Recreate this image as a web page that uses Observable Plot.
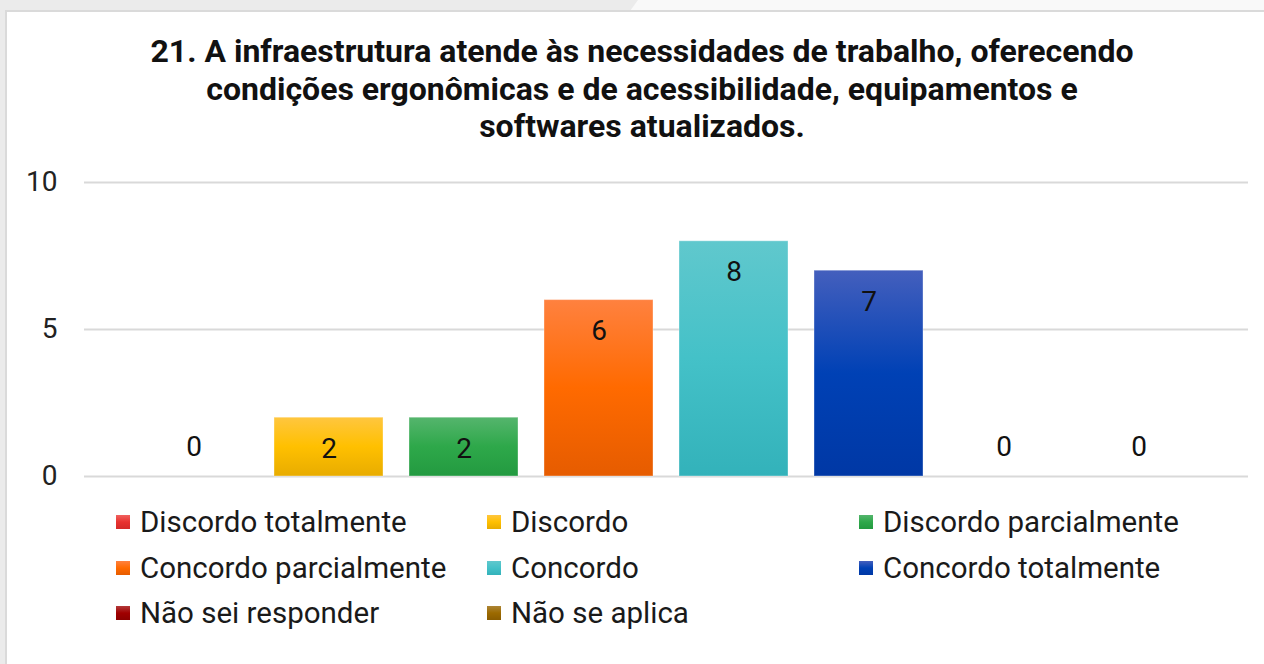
<!DOCTYPE html>
<html>
<head>
<meta charset="utf-8">
<script src="https://cdn.jsdelivr.net/npm/d3@7"></script>
<script src="https://cdn.jsdelivr.net/npm/@observablehq/plot@0.6"></script>
<style>
  html, body { margin: 0; padding: 0; }
  body { width: 1264px; height: 664px; overflow: hidden; background: #ebebeb; font-family: Roboto, "Noto Sans", sans-serif; position: relative; }
  #topright { position: absolute; left: 630px; top: 0; width: 634px; height: 11px; background: #f9f9f9; clip-path: polygon(8px 0, 100% 0, 100% 100%, 0 100%); }
  #card { position: absolute; left: 5px; top: 10px; width: 1270px; height: 670px; background: #fff; border-left: 2px solid #dadada; border-top: 2px solid #dadada; }
  #title { position: absolute; left: 0; top: 33px; width: 1284px; text-align: center; font-weight: bold; font-size: 32px; line-height: 37.5px; color: #111; white-space: nowrap; }
  #chart { position: absolute; left: 0; top: 160px; }
  .leg { position: absolute; font-size: 29.5px; color: #1a1a1a; white-space: nowrap; line-height: 34px; }
  .leg .sw { position: absolute; left: -24px; top: 10px; width: 14px; height: 14px; }
</style>
</head>
<body>
<div id="topright"></div>
<div id="card"></div>
<div id="title">21. A infraestrutura atende às necessidades de trabalho, oferecendo<br>condições ergonômicas e de acessibilidade, equipamentos e<br>softwares atualizados.</div>
<div id="chart"></div>
<div id="legend"></div>
<script>
const categories = ["Discordo totalmente", "Discordo", "Discordo parcialmente", "Concordo parcialmente", "Concordo", "Concordo totalmente", "Não sei responder", "Não se aplica"];
const values = [0, 2, 2, 6, 8, 7, 0, 0];
const colorsTop = ["#f0625f", "#ffc63f", "#55b56d", "#ff813f", "#60c8cd", "#445fbd", "#b33a3a", "#ad8535"];
const colorsMid = ["#e8322f", "#ffc000", "#2ea84a", "#ff6a00", "#44c1c8", "#0041b5", "#a00000", "#9c6a00"];
const colorsBot = ["#d42a28", "#e8ac00", "#239a40", "#e65c00", "#33b2ba", "#0038a5", "#8c0000", "#8a5c00"];
const yTicks = [0, 5, 10];

const data = categories.map((c, i) => ({cat: c, value: values[i], fill: `url(#grad${i})`}));

const plot = Plot.plot({
  width: 1264,
  height: 346,
  marginLeft: 84,
  marginRight: 16,
  marginTop: 22,
  marginBottom: 30,
  style: {background: "transparent", fontFamily: "Roboto, 'Noto Sans', sans-serif"},
  x: {domain: categories, paddingInner: 0.19, paddingOuter: 0.095, insetLeft: 42, insetRight: 41, axis: null},
  y: {domain: [0, 10], ticks: yTicks, tickSize: 0, tickPadding: 27, label: null},
  color: {type: "identity"},
  marks: [
    Plot.ruleY(yTicks, {stroke: "#d9d9d9", strokeWidth: 2}),
    Plot.barY(data, {x: "cat", y: "value", fill: "fill", stroke: "#ffffff", strokeOpacity: 0.35, strokeWidth: 1}),
    Plot.text(data.filter(d => d.value > 0), {x: "cat", y: "value", text: d => String(d.value), dy: 31, fontSize: 28, fill: "#111"}),
    Plot.text(data.filter(d => d.value === 0), {x: "cat", y: "value", text: d => String(d.value), dy: -29, fontSize: 28, fill: "#111"}),
    Plot.axisY({ticks: yTicks, tickSize: 0, tickPadding: 27, fontSize: 28, fill: "#222", label: null})
  ]
});

// gradients
const svgNS = "http://www.w3.org/2000/svg";
const defs = document.createElementNS(svgNS, "defs");
categories.forEach((c, i) => {
  const g = document.createElementNS(svgNS, "linearGradient");
  g.setAttribute("id", `grad${i}`);
  g.setAttribute("x1", "0"); g.setAttribute("y1", "0");
  g.setAttribute("x2", "0"); g.setAttribute("y2", "1");
  [[0, colorsTop[i]], [0.5, colorsMid[i]], [1, colorsBot[i]]].forEach(([o, col]) => {
    const s = document.createElementNS(svgNS, "stop");
    s.setAttribute("offset", o);
    s.setAttribute("stop-color", col);
    g.appendChild(s);
  });
  defs.appendChild(g);
});
plot.insertBefore(defs, plot.firstChild);
document.getElementById("chart").appendChild(plot);

// legend
const legX = [140, 511, 883];
const legY = [505, 551, 596];
const legend = document.getElementById("legend");
categories.forEach((c, i) => {
  const d = document.createElement("div");
  d.className = "leg";
  d.style.left = legX[i % 3] + "px";
  d.style.top = legY[Math.floor(i / 3)] + "px";
  const sw = document.createElement("span");
  sw.className = "sw";
  sw.style.background = `linear-gradient(${colorsTop[i]}, ${colorsMid[i]} 50%, ${colorsBot[i]})`;
  d.appendChild(sw);
  d.appendChild(document.createTextNode(c));
  legend.appendChild(d);
});
</script>
</body>
</html>
